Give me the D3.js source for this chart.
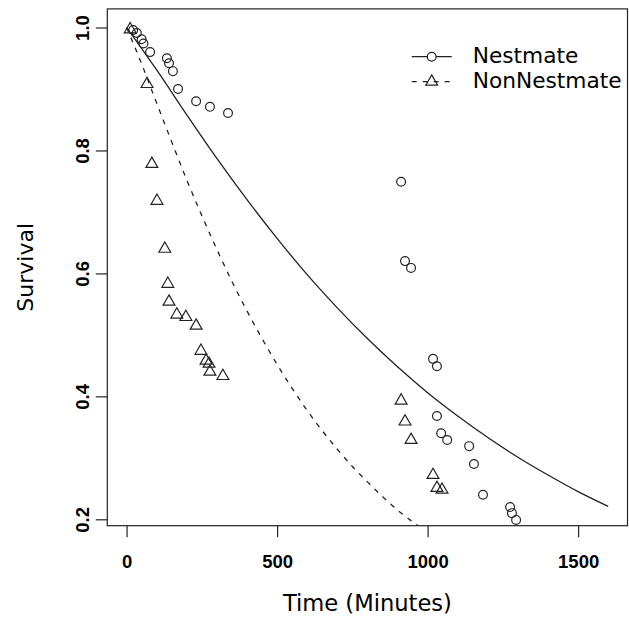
<!doctype html>
<html>
  <head>
    <script src="https://d3js.org/d3.v7.min.js"></script>
    <style>
      body { margin: 0; background: white; overflow: hidden; }
      svg { display: block; }
      .tick text { font-family: "Liberation Sans", Arial, sans-serif; font-weight: bold; font-size: 18.5px; fill: black; }
      .lab { font-family: "DejaVu Sans", sans-serif; fill: black; }
    </style>
  </head>

  <body>
    <svg class="chart" width=629 height=623></svg>

    <script>
        // observed points (minutes, proportion surviving)
        var nestTime = [22, 34, 50, 56, 78, 134, 141, 154, 171, 231, 277, 337,
                        912, 925, 945, 1018, 1031, 1031, 1045, 1065, 1138, 1154, 1184, 1274, 1280, 1294];
        var nestSurv = [0.996, 0.991, 0.981, 0.974, 0.960, 0.950, 0.942, 0.929, 0.900, 0.880, 0.871, 0.861,
                        0.749, 0.620, 0.609, 0.461, 0.449, 0.368, 0.340, 0.329, 0.319, 0.290, 0.240, 0.220, 0.210, 0.199];

        var nonTime = [12, 68, 84, 101, 127, 137, 141, 167, 197, 231, 247, 264, 274, 277, 320,
                       912, 925, 945, 1018, 1031, 1048];
        var nonSurv = [0.997, 0.908, 0.778, 0.718, 0.640, 0.583, 0.554, 0.533, 0.529, 0.515, 0.474, 0.458, 0.453, 0.440, 0.433,
                       0.393, 0.359, 0.329, 0.272, 0.251, 0.248];

        // fitted curves
        var nestFitTime = [0, 100, 200, 300, 400, 500, 600, 700, 800, 900, 1000, 1100, 1200, 1300, 1400, 1500, 1600];
        var nestFit = [1.0, 0.931, 0.858, 0.787, 0.720, 0.657, 0.598, 0.544, 0.494, 0.448, 0.406, 0.368, 0.333, 0.301, 0.272, 0.245, 0.221];

        var nonFitTime = [0, 50, 100, 150, 200, 250, 300, 350, 400, 450, 500, 550, 600, 650, 700, 750, 800, 850, 900, 950, 1000];
        var nonFit = [1.0, 0.941, 0.877, 0.814, 0.752, 0.694, 0.639, 0.587, 0.539, 0.494, 0.452, 0.413, 0.377, 0.344, 0.314, 0.286, 0.261, 0.237, 0.215, 0.196, 0.178];

        var xTicks = [0, 500, 1000, 1500];
        var yTicks = [0.2, 0.4, 0.6, 0.8, 1.0];
        var seriesNames = ["Nestmate", "NonNestmate"];

        var boxL = 107.3, boxR = 627.5, boxT = 8.9, boxB = 525.7;

        var svg = d3.select("svg");
        var xScale = d3.scaleLinear().domain([-64, 1664]).range([boxL, boxR]);
        var yScale = d3.scaleLinear().domain([0.1896, 1.0303]).range([boxB, boxT]);

        svg.append("defs").append("clipPath").attr("id", "box")
            .append("rect").attr("x", boxL).attr("y", boxT)
            .attr("width", boxR - boxL).attr("height", boxB - boxT);

        // axes
        svg.append("g").attr("transform", "translate(0," + boxB + ")")
            .call(d3.axisBottom(xScale).tickValues(xTicks).tickSize(11.5).tickPadding(17.8)
                .tickFormat(function(d){return d;}));
        var ya = svg.append("g").attr("transform", "translate(" + boxL + ",0)")
            .call(d3.axisLeft(yScale).tickValues(yTicks).tickSize(11.5)
                .tickFormat(d3.format(".1f")));
        ya.selectAll("text")
            .attr("x", null).attr("dy", null)
            .attr("text-anchor", "middle")
            .attr("transform", "translate(-18,0) rotate(-90)");
        svg.selectAll(".domain").remove();
        svg.selectAll(".tick line").attr("stroke", "#222").attr("stroke-width", 1.2);

        svg.append("rect")
            .attr("x", boxL).attr("y", boxT)
            .attr("width", boxR - boxL).attr("height", boxB - boxT)
            .attr("fill", "none").attr("stroke", "#222").attr("stroke-width", 1.2);

        // axis titles
        svg.append("text").attr("class", "lab")
            .attr("x", (boxL + boxR) / 2).attr("y", 610.7)
            .attr("text-anchor", "middle").style("font-size", "22.6px")
            .text("Time (Minutes)");
        svg.append("text").attr("class", "lab")
            .attr("transform", "translate(33," + (boxT + boxB) / 2 + ") rotate(-90)")
            .attr("text-anchor", "middle").style("font-size", "22px")
            .text("Survival");

        var plot = svg.append("g").attr("clip-path", "url(#box)");

        var line = d3.line()
            .x(function(d){return xScale(d[0]);})
            .y(function(d){return yScale(d[1]);})
            .curve(d3.curveMonotoneX);

        plot.append("path")
            .datum(d3.zip(nestFitTime, nestFit))
            .attr("d", line)
            .attr("fill", "none").attr("stroke", "#222").attr("stroke-width", 1.3);
        plot.append("path")
            .datum(d3.zip(nonFitTime, nonFit))
            .attr("d", line)
            .attr("fill", "none").attr("stroke", "#222").attr("stroke-width", 1.3)
            .attr("stroke-dasharray", "5,6");

        // R style pch=2 triangle, centred on centroid
        function tri(r) {
            return "M0," + (-1.555 * r) + "L" + (1.347 * r) + "," + (0.778 * r) +
                   "L" + (-1.347 * r) + "," + (0.778 * r) + "Z";
        }

        plot.selectAll(".nest")
            .data(d3.zip(nestTime, nestSurv))
            .enter().append("circle")
                .attr("cx", function(d){return xScale(d[0]);})
                .attr("cy", function(d){return yScale(d[1]);})
                .attr("r", 4.4)
                .attr("fill", "none").attr("stroke", "#222").attr("stroke-width", 1.2);

        plot.selectAll(".non")
            .data(d3.zip(nonTime, nonSurv))
            .enter().append("path")
                .attr("d", tri(4.4))
                .attr("transform", function(d){return "translate(" + xScale(d[0]) + "," + yScale(d[1]) + ")";})
                .attr("fill", "none").attr("stroke", "#222").attr("stroke-width", 1.2);

        // legend (no box)
        var leg = svg.append("g");
        var rows = [56.7, 81.7];
        seriesNames.forEach(function(name, i) {
            var g = leg.append("g").attr("transform", "translate(0," + rows[i] + ")");
            var ln = g.append("line").attr("x1", 411.7).attr("x2", 451.7).attr("y1", 0).attr("y2", 0)
                .attr("stroke", "#222").attr("stroke-width", 1.3);
            if (i === 1) {
                ln.attr("stroke-dasharray", "5,6");
                g.append("path").attr("d", tri(4.4)).attr("transform", "translate(431.7,0)")
                    .attr("fill", "none").attr("stroke", "#222").attr("stroke-width", 1.2);
            } else {
                g.append("circle").attr("cx", 431.7).attr("cy", 0).attr("r", 4.4)
                    .attr("fill", "white").attr("stroke", "#222").attr("stroke-width", 1.2);
            }
            g.append("text").attr("class", "lab")
                .attr("x", 472.7).attr("y", 6.6)
                .style("font-size", "21.7px")
                .text(name);
        });
    </script>
  </body>
</html>
